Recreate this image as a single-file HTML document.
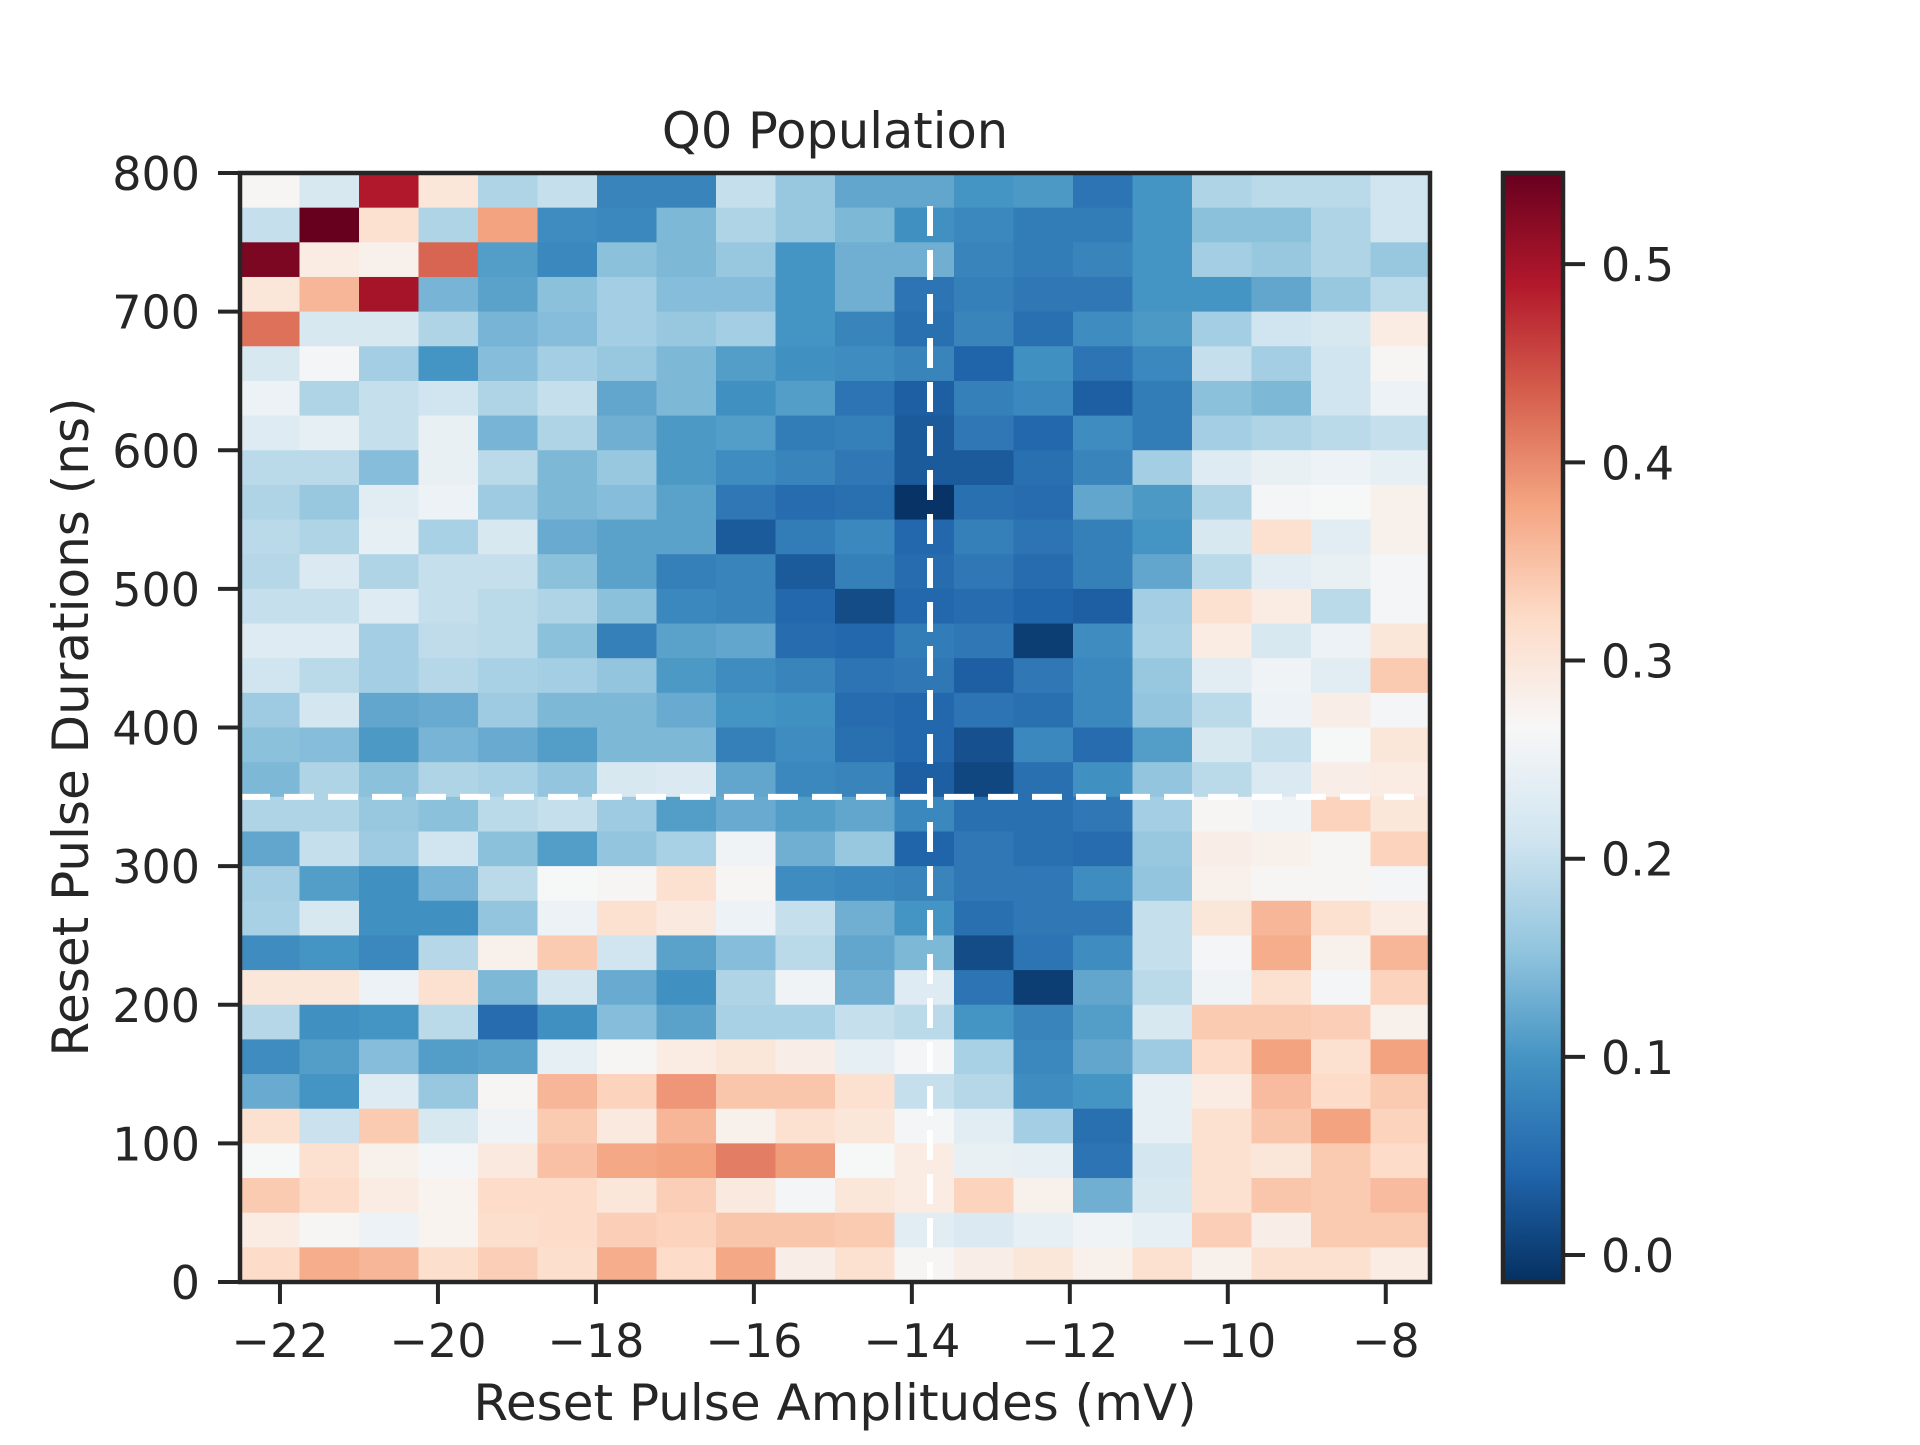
<!DOCTYPE html>
<html><head><meta charset="utf-8"><style>
html,body{margin:0;padding:0;background:#fff;}
svg text{font-family:"DejaVu Sans","Liberation Sans",sans-serif;fill:#262626;}
</style></head><body>
<svg id="chart" width="1920" height="1440" viewBox="0 0 1920 1440" xmlns="http://www.w3.org/2000/svg">
<rect width="1920" height="1440" fill="#fff"/>
<text x="835" y="148" font-size="49.5" text-anchor="middle">Q0 Population</text>
<g id="cells"></g>
<g id="lines"></g>
<rect x="240" y="173" width="1190" height="1109" fill="none" stroke="#262626" stroke-width="4.5"/>
<g id="xt"></g>
<g id="yt"></g>
<text x="835" y="1420" font-size="50" text-anchor="middle">Reset Pulse Amplitudes (mV)</text>
<text transform="translate(88,727) rotate(-90)" font-size="50" text-anchor="middle">Reset Pulse Durations (ns)</text>
<g id="cb"></g>
</svg>
<script>
// Data: rows from top (775-800 ns) to bottom (0-25 ns), 20 amplitude columns
const amplitudeRange = [-22.506, -7.44];
const durationRange = [0, 800];
const xTicks = [-22, -20, -18, -16, -14, -12, -10, -8];
const yTicks = [0, 100, 200, 300, 400, 500, 600, 700, 800];
const cbTicks = [0.0, 0.1, 0.2, 0.3, 0.4, 0.5];
const colorRange = [-0.0136, 0.546];
const markAmplitude = -13.77;
const markDuration = 350;
const population = [
[0.27,0.22,0.49,0.30,0.18,0.20,0.08,0.08,0.20,0.16,0.12,0.12,0.10,0.105,0.06,0.10,0.18,0.19,0.19,0.21],
[0.20,0.55,0.31,0.18,0.38,0.09,0.085,0.14,0.18,0.16,0.14,0.095,0.085,0.07,0.07,0.10,0.15,0.15,0.18,0.21],
[0.53,0.29,0.28,0.43,0.11,0.085,0.15,0.14,0.16,0.10,0.13,0.13,0.08,0.07,0.08,0.10,0.17,0.16,0.18,0.16],
[0.30,0.36,0.50,0.135,0.115,0.15,0.17,0.145,0.145,0.10,0.13,0.06,0.075,0.065,0.065,0.10,0.10,0.12,0.16,0.19],
[0.42,0.22,0.22,0.18,0.135,0.145,0.17,0.16,0.17,0.10,0.08,0.055,0.08,0.055,0.09,0.105,0.17,0.21,0.22,0.29],
[0.22,0.26,0.17,0.10,0.145,0.17,0.16,0.14,0.11,0.095,0.09,0.08,0.04,0.095,0.06,0.085,0.20,0.17,0.21,0.27],
[0.25,0.18,0.20,0.21,0.18,0.20,0.12,0.14,0.095,0.11,0.06,0.035,0.075,0.085,0.035,0.07,0.15,0.14,0.21,0.25],
[0.23,0.24,0.20,0.245,0.135,0.18,0.13,0.105,0.11,0.07,0.075,0.03,0.065,0.045,0.09,0.07,0.17,0.18,0.19,0.20],
[0.19,0.19,0.145,0.245,0.19,0.14,0.16,0.105,0.09,0.08,0.065,0.03,0.03,0.055,0.08,0.17,0.23,0.245,0.25,0.24],
[0.18,0.16,0.235,0.25,0.165,0.14,0.145,0.115,0.065,0.05,0.055,-0.01,0.055,0.05,0.12,0.105,0.18,0.26,0.265,0.28],
[0.19,0.18,0.24,0.175,0.22,0.125,0.115,0.115,0.03,0.07,0.085,0.045,0.075,0.06,0.075,0.10,0.22,0.31,0.235,0.28],
[0.185,0.225,0.18,0.20,0.20,0.15,0.115,0.075,0.08,0.03,0.075,0.05,0.065,0.05,0.075,0.12,0.19,0.235,0.245,0.26],
[0.20,0.20,0.23,0.20,0.19,0.18,0.15,0.085,0.08,0.045,0.015,0.045,0.05,0.04,0.035,0.17,0.31,0.29,0.19,0.26],
[0.23,0.23,0.17,0.195,0.19,0.15,0.075,0.115,0.12,0.05,0.045,0.07,0.065,0.0,0.09,0.175,0.29,0.22,0.25,0.30],
[0.21,0.19,0.17,0.185,0.175,0.17,0.155,0.105,0.09,0.08,0.06,0.065,0.035,0.065,0.085,0.16,0.235,0.255,0.235,0.34],
[0.165,0.215,0.12,0.125,0.165,0.14,0.14,0.125,0.10,0.095,0.05,0.045,0.06,0.055,0.085,0.155,0.19,0.25,0.285,0.26],
[0.15,0.145,0.105,0.135,0.125,0.11,0.14,0.14,0.075,0.09,0.055,0.045,0.02,0.085,0.05,0.11,0.22,0.20,0.265,0.30],
[0.14,0.18,0.15,0.18,0.175,0.155,0.22,0.225,0.12,0.085,0.08,0.035,0.01,0.055,0.095,0.155,0.19,0.225,0.285,0.29],
[0.18,0.18,0.16,0.15,0.19,0.20,0.165,0.11,0.125,0.11,0.12,0.085,0.055,0.055,0.065,0.17,0.27,0.255,0.33,0.30],
[0.12,0.20,0.165,0.21,0.15,0.11,0.155,0.175,0.255,0.13,0.16,0.04,0.065,0.055,0.05,0.16,0.285,0.28,0.27,0.33],
[0.17,0.11,0.095,0.135,0.19,0.265,0.27,0.31,0.27,0.09,0.085,0.08,0.065,0.065,0.09,0.155,0.28,0.27,0.27,0.26],
[0.175,0.22,0.095,0.095,0.155,0.25,0.31,0.295,0.25,0.20,0.13,0.10,0.055,0.065,0.065,0.20,0.30,0.36,0.31,0.29],
[0.09,0.10,0.085,0.185,0.28,0.34,0.21,0.115,0.145,0.19,0.12,0.14,0.015,0.06,0.09,0.20,0.26,0.37,0.28,0.36],
[0.30,0.30,0.25,0.31,0.14,0.215,0.125,0.095,0.18,0.255,0.13,0.23,0.06,0.0,0.12,0.19,0.255,0.31,0.26,0.33],
[0.185,0.095,0.10,0.19,0.05,0.095,0.145,0.115,0.175,0.175,0.20,0.19,0.10,0.08,0.11,0.22,0.34,0.34,0.335,0.28],
[0.09,0.11,0.145,0.11,0.115,0.24,0.27,0.29,0.30,0.285,0.24,0.26,0.175,0.085,0.12,0.165,0.32,0.38,0.31,0.38],
[0.125,0.10,0.23,0.16,0.27,0.36,0.33,0.39,0.345,0.345,0.31,0.20,0.185,0.09,0.10,0.24,0.29,0.355,0.32,0.34],
[0.31,0.205,0.34,0.22,0.255,0.34,0.295,0.36,0.28,0.31,0.30,0.26,0.235,0.17,0.055,0.24,0.31,0.345,0.38,0.33],
[0.265,0.31,0.28,0.26,0.295,0.35,0.375,0.38,0.41,0.385,0.265,0.29,0.245,0.24,0.06,0.215,0.31,0.30,0.34,0.32],
[0.34,0.32,0.29,0.275,0.32,0.32,0.30,0.335,0.295,0.26,0.30,0.29,0.33,0.28,0.13,0.22,0.31,0.345,0.34,0.355],
[0.29,0.27,0.25,0.275,0.315,0.32,0.335,0.33,0.345,0.345,0.34,0.235,0.225,0.24,0.255,0.24,0.335,0.285,0.34,0.34],
[0.32,0.37,0.36,0.315,0.335,0.315,0.37,0.32,0.375,0.285,0.31,0.27,0.285,0.30,0.28,0.31,0.28,0.31,0.31,0.29]
];

const NS = "http://www.w3.org/2000/svg";
const L = 240, R = 1430, T = 173, B = 1282;
function xs(v){ return L + (v - amplitudeRange[0]) / (amplitudeRange[1] - amplitudeRange[0]) * (R - L); }
function ys(v){ return B - (v - durationRange[0]) / (durationRange[1] - durationRange[0]) * (B - T); }
const stops = [[5,48,97],[33,102,172],[67,147,195],[146,197,222],[209,229,240],[247,247,247],[253,219,199],[244,165,130],[214,96,77],[178,24,43],[103,0,31]];
function cmap(v){
  let t = (v - colorRange[0]) / (colorRange[1] - colorRange[0]);
  t = Math.max(0, Math.min(1, t)) * 10;
  const i = Math.min(9, Math.floor(t)), f = t - i;
  const a = stops[i], b = stops[i+1];
  return "rgb(" + [0,1,2].map(k => Math.round(a[k] + (b[k]-a[k])*f)).join(",") + ")";
}
function mk(tag, attrs, parent){
  const e = document.createElementNS(NS, tag);
  for (const k in attrs) e.setAttribute(k, attrs[k]);
  parent.appendChild(e); return e;
}
const nR = population.length, nC = population[0].length;
const dx = (amplitudeRange[1] - amplitudeRange[0]) / nC;
const dy = (durationRange[1] - durationRange[0]) / nR;
const cells = document.getElementById("cells");
population.forEach((row, r) => {
  row.forEach((v, c) => {
    const x0 = xs(amplitudeRange[0] + c*dx), x1 = xs(amplitudeRange[0] + (c+1)*dx);
    const yTop = ys(durationRange[1] - r*dy), yBot = ys(durationRange[1] - (r+1)*dy);
    const el = mk("rect", {x:x0, y:yTop, width:x1-x0+0.6, height:yBot-yTop+0.6, fill:cmap(v)}, cells);
    
    
  });
});
const lines = document.getElementById("lines");
const vl = mk("line", {x1:xs(markAmplitude), x2:xs(markAmplitude), y1:206, y2:B, stroke:"#fff", "stroke-width":6, "stroke-dasharray":"30 14"}, lines);


const hl = mk("line", {x1:L, x2:1420, y1:ys(markDuration), y2:ys(markDuration), stroke:"#fff", "stroke-width":6, "stroke-dasharray":"30 14"}, lines);



const xt = document.getElementById("xt");
xTicks.forEach(v => {
  const x = xs(v);
  const tk = mk("line", {x1:x, x2:x, y1:B, y2:B+22, stroke:"#262626", "stroke-width":4}, xt);
  
  
  const tx = mk("text", {x:x, y:1357, "font-size":46, "text-anchor":"middle"}, xt);
  tx.textContent = (v < 0 ? "\u2212" + Math.abs(v) : String(v));
  
  
});
const yt = document.getElementById("yt");
yTicks.forEach(v => {
  const y = ys(v);
  const tk = mk("line", {x1:L-22, x2:L, y1:y, y2:y, stroke:"#262626", "stroke-width":4}, yt);
  
  
  const tx = mk("text", {x:200, y:y+17, "font-size":46, "text-anchor":"end"}, yt);
  tx.textContent = String(v);
  
  
});

const cb = document.getElementById("cb");
const CL = 1503, CR = 1563;
function cy(v){ return B - (v - colorRange[0]) / (colorRange[1] - colorRange[0]) * (B - T); }
const defs = mk("defs", {}, cb);
const grad = mk("linearGradient", {id:"cbg", x1:0, y1:1, x2:0, y2:0}, defs);
for (let i = 0; i <= 20; i++) {
  const v = colorRange[0] + (colorRange[1]-colorRange[0]) * i/20;
  mk("stop", {offset:(i/20), "stop-color":cmap(v)}, grad);
}
const bar = mk("rect", {x:CL, y:T, width:CR-CL, height:B-T, fill:"url(#cbg)", stroke:"#262626", "stroke-width":4.5}, cb);


cbTicks.forEach(v => {
  const y = cy(v);
  const tk = mk("line", {x1:CR, x2:CR+22, y1:y, y2:y, stroke:"#262626", "stroke-width":4}, cb);
  
  
  const tx = mk("text", {x:1601, y:y+17, "font-size":46}, cb);
  tx.textContent = v.toFixed(1);
  
  
});
</script>
</body></html>
